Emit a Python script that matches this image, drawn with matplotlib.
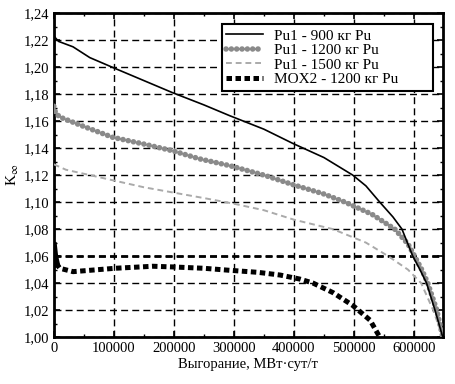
import matplotlib
matplotlib.use('Agg')
import matplotlib.pyplot as plt
from matplotlib.ticker import MultipleLocator, FuncFormatter

plt.rcParams['font.family'] = ['Liberation Serif', 'DejaVu Serif']
plt.rcParams['mathtext.fontset'] = 'stix'

# burnup, MW*day/t
x_900 = [0, 8000, 32000, 60000, 102000, 150000, 198000, 250000, 293000, 350000, 398000, 450000,
         498000, 520000, 543000, 565000, 580000, 598000, 610000, 621000, 635000, 648000]
k_900 = [1.223, 1.219, 1.215, 1.207, 1.199, 1.190, 1.181, 1.172, 1.164, 1.154, 1.1435, 1.133,
         1.120, 1.112, 1.100, 1.089, 1.080, 1.060, 1.050, 1.040, 1.020, 1.000]

x_1200 = [0, 3000, 10000, 50000, 98000, 150000, 198000, 243000, 293000, 350000, 398000, 450000,
          485000, 530000, 568000, 590000, 601000, 613000, 623000, 638000, 648000]
k_1200 = [1.171, 1.166, 1.163, 1.156, 1.148, 1.143, 1.138, 1.132, 1.127, 1.120, 1.113, 1.106,
          1.100, 1.091, 1.080, 1.069, 1.060, 1.050, 1.040, 1.020, 1.000]

x_1500 = [0, 20000, 60000, 100000, 150000, 200000, 250000, 298000, 350000, 400000, 465000,
          520000, 557000, 590000, 612000, 632000, 648000]
k_1500 = [1.128, 1.124, 1.120, 1.116, 1.111, 1.107, 1.103, 1.099, 1.094, 1.087, 1.080,
          1.070, 1.060, 1.050, 1.040, 1.020, 1.000]

x_mox = [0, 2000, 5000, 10000, 32000, 60000, 102000, 165000, 198000, 250000, 293000, 340000,
         377000, 410000, 432000, 465000, 498000, 527000, 543000]
k_mox = [1.068, 1.060, 1.054, 1.051, 1.0485, 1.0495, 1.051, 1.0525, 1.052, 1.051, 1.0495, 1.048,
         1.046, 1.043, 1.040, 1.033, 1.0235, 1.0125, 1.000]

k_ref = 1.06  # heavier reference line

labels = ['Pu1 - 900 кг Pu', 'Pu1 - 1200 кг Pu', 'Pu1 - 1500 кг Pu', 'MOX2 - 1200 кг Pu']

fig = plt.figure(figsize=(4.56, 3.84), dpi=100)
ax = fig.add_axes([0.118, 0.122, 0.853, 0.844])

ax.axhline(k_ref, color='black', lw=2.0, linestyle=(0, (2.5, 1.5)), zorder=3)
ax.plot(x_900, k_900, color='black', lw=1.2, label=labels[0], zorder=5)
ax.plot(x_1200, k_1200, color='#8a8a8a', lw=4.0, linestyle=(0, (0.01, 0.95)),
        dash_capstyle='round', label=labels[1], zorder=4)
ax.plot(x_1500, k_1500, color='#aaaaaa', lw=1.4, linestyle=(0, (3, 2)), label=labels[2], zorder=4)
ax.plot(x_mox, k_mox, color='black', lw=3.6, linestyle=(0, (1.1, 0.7)),
        label=labels[3], zorder=5)
ax.plot(x_mox[:3], k_mox[:3], color='black', lw=4.5, zorder=5)

ax.set_xlim(0, 648000)
ax.set_ylim(1.00, 1.24)
ax.xaxis.set_major_locator(MultipleLocator(100000))
ax.xaxis.set_minor_locator(MultipleLocator(50000))
ax.yaxis.set_major_locator(MultipleLocator(0.02))
ax.yaxis.set_minor_locator(MultipleLocator(0.01))
ax.yaxis.set_major_formatter(FuncFormatter(lambda v, p: f'{v:.2f}'.replace('.', ',')))
ax.xaxis.set_major_formatter(FuncFormatter(lambda v, p: f'{int(round(v))}'))

ax.grid(True, which='major', color='black', lw=1.0, linestyle=(0, (5, 3)))
ax.tick_params(which='both', direction='in', top=True, right=True, labelsize=10.5)
ax.tick_params(which='major', length=4, width=1.2)
ax.tick_params(which='minor', length=2.5, width=1)
for s in ax.spines.values():
    s.set_linewidth(2)

ax.set_xlabel('Выгорание, МВт·сут/т', fontsize=10.5, labelpad=2)
ax.set_ylabel(r'K$_{\infty}$', fontsize=11, labelpad=2)

leg = ax.legend(loc='upper left', bbox_to_anchor=(0.432, 0.965, 0.542, 0.0), mode='expand',
                fontsize=11, frameon=True, fancybox=False, edgecolor='black', framealpha=1,
                borderpad=0.3, labelspacing=0.05, handlelength=2.4, handletextpad=0.7,
                borderaxespad=0)
leg.get_frame().set_linewidth(1.5)

fig.savefig('out.png', dpi=100)
